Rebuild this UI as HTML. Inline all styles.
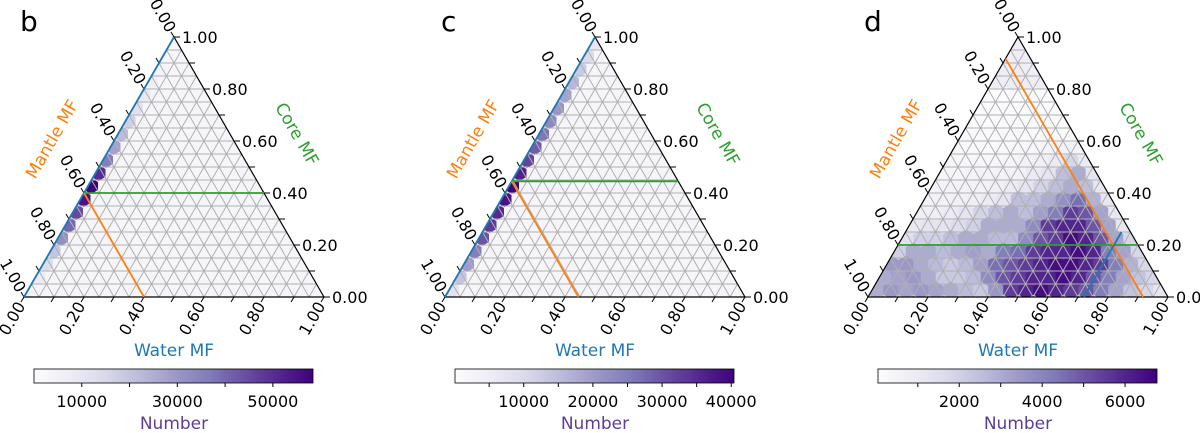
<!DOCTYPE html>
<html><head><meta charset="utf-8"><style>
html,body{margin:0;padding:0;background:#fff}
svg{display:block;font-family:"DejaVu Sans","Liberation Sans",sans-serif}
</style></head><body>
<svg id="fig" width="1200" height="433" viewBox="0 0 1200 433" xmlns="http://www.w3.org/2000/svg"></svg>
<script>
// ---- data ----
const panelLetters = ["b","c","d"];
const tickValues = [0, 0.2, 0.4, 0.6, 0.8, 1.0];
const tickLabels = ["0.00","0.20","0.40","0.60","0.80","1.00"];
const cbarMin = [0, 60, 40];
const cbarMax = [58400, 40400, 6770];
const cbarTicksB = [10000, 20000, 30000, 40000, 50000];
const cbarLabelsB = ["10000", "", "30000", "", "50000"];
const cbarTicksC = [5000, 10000, 15000, 20000, 25000, 30000, 35000, 40000];
const cbarLabelsC = ["", "10000", "", "20000", "", "30000", "", "40000"];
const cbarTicksD = [1000, 2000, 3000, 4000, 5000, 6000];
const cbarLabelsD = ["", "2000", "", "4000", "", "6000"];
const hexRowsB = [[4000],[8000],[14000],[20000],[32000],[40000],[45000],[55000],[58000],[50000],[36000],[28000],[22000],[17000],[12000],[9000],[6000],[4000],[2500],[1500]];
const hexRowsC = [[8000],[14000],[20000],[25000],[30000],[33000],[35000],[38000],[40000],[36000],[32000],[29000],[26000],[23000],[21000],[19000],[16000],[13000],[10000],[7000]];
const hexRowsD = [
 [3000,3500,3200,3500,3200,3000,2600,2200,3500,5500,6000,6500,6000,5500,5000,4200,3200,2400,1800,1200],
 [3000,3200,3500,3000,2200,2200,2600,3800,5000,5500,6000,6000,6500,6000,5000,4200,3200,2400,1800],
 [3400,3500,3000,2600,2200,2600,3300,4500,5000,5500,6000,6500,6500,6000,5500,4200,2800,1800],
 [2000,3000,3000,2600,3000,3300,3000,4200,4500,5500,6000,6000,6500,6000,4200,3200,1800],
 [1400,2000,2000,2500,3000,3000,2600,2600,3800,5000,5500,6500,6000,5000,3200,1800],
 [1100,1300,1300,1600,2000,3000,3000,3000,3800,5500,6000,6000,5000,3200,1200],
 [800,800,1000,1300,1900,2500,3000,2500,3300,4200,5500,5000,3200,1200],
 [600,600,700,800,1000,1300,2500,2500,3000,3700,4500,2800,1200],
 [500,500,600,600,700,1000,1300,1900,2500,3000,2500,1200],
 [400,400,500,500,600,600,1000,1300,2500,3000,1300],
 [300,350,350,350,450,600,700,1000,1800,1000],
 [250,250,250,300,300,350,450,600,500],
 [150,150,200,200,200,200,200,200],
 [100,100,100,150,150,150,100],
 [80,80,100,100,100,80],
 [60,60,80,80,60]
];
const linesB = [[0,0,0,1,"#1f77b4"],[0,0.4,0.6,0.4,"#2ca02c"],[0,0.4,0.4,0,"#ff7f0e"]];
const linesC = [[0,0,0,1,"#1f77b4"],[0,0.445,0.555,0.445,"#2ca02c"],[0,0.445,0.445,0,"#ff7f0e"]];
const linesD = [[0,0.2,0.8,0.2,"#2ca02c"],[0,0.917,0.917,0,"#ff7f0e"],[0.72,0,0.72,0.25,"#1f77b4"]];

const panelOffsets=[0,421,844];
const hexRowsAll=[hexRowsB,hexRowsC,hexRowsD];
const linesAll=[linesB,linesC,linesD];
const cbTicksAll=[cbarTicksB,cbarTicksC,cbarTicksD];
const cbLabelsAll=[cbarLabelsB,cbarLabelsC,cbarLabelsD];

const NS="http://www.w3.org/2000/svg";
const svg=document.getElementById('fig');
function mk(tag,attrs,parent){const e=document.createElementNS(NS,tag);for(const k in attrs)e.setAttribute(k,attrs[k]);(parent||svg).appendChild(e);return e;}
const stops=["#fcfbfd","#efedf5","#dadaeb","#bcbddc","#9e9ac8","#807dba","#6a51a3","#54278f","#3f007d"];
function hex2rgb(h){return [1,3,5].map(i=>parseInt(h.substr(i,2),16));}
function cmap(t){t=Math.max(0,Math.min(1,t));const f=t*8,i=Math.min(7,Math.floor(f)),u=f-i;const a=hex2rgb(stops[i]),b=hex2rgb(stops[i+1]);return "rgb("+a.map((v,k)=>Math.round(v+(b[k]-v)*u)).join(",")+")";}

const W=300,H=260,BOT=297,L0=24;
const defs=mk('defs',{});
const grad=mk('linearGradient',{id:'pg',x1:0,y1:0,x2:1,y2:0},defs);
stops.forEach((s,i)=>mk('stop',{offset:(i/8),'stop-color':s},grad));

for(let p=0;p<3;p++){
  const ox=L0+panelOffsets[p];
  const X=(w,c)=>ox+w*W+c*W/2, Y=c=>BOT-c*H;
  const g=mk('g',{});
  
  
  const tri=`${X(0,0)},${Y(0)} ${X(1,0)},${Y(0)} ${X(0,1)},${Y(1)}`;
  const cp=mk('clipPath',{id:'clip'+p},defs);
  mk('polygon',{points:tri},cp);
  const bg=mk('polygon',{points:tri,fill:p==2?'#efedf6':'#f6f5fa'},g);
  
  
  const hg=mk('g',{'clip-path':'url(#clip'+p+')'},g);
  
  
  const rows=hexRowsAll[p];
  const R=p==2?9:8;
  rows.forEach((row,r)=>{
    const cy=BOT-7-r*13; const c=(BOT-cy)/H;
    const xl=X(0,c);
    row.forEach((v,i)=>{
      const cx=p==2? xl+4+i*15 : xl+3;
      let pts=[];for(let k=0;k<6;k++){const a=Math.PI/180*(60*k-90);pts.push((cx+R*Math.cos(a)).toFixed(1)+","+(cy+R*Math.sin(a)).toFixed(1));}
      const t=(v-cbarMin[p])/(cbarMax[p]-cbarMin[p]);
      const h=mk('polygon',{points:pts.join(' '),fill:cmap(t)},hg);
      
      
    });
  });
  const gg=mk('g',{stroke:'#b0b0b0','stroke-width':1,fill:'none'},g);
  
  
  for(let k=1;k<20;k++){const v=k/20;
    mk('line',{x1:X(0,v),y1:Y(v),x2:X(1-v,v),y2:Y(v)},gg);
    mk('line',{x1:X(v,0),y1:Y(0),x2:X(v,1-v),y2:Y(1-v)},gg);
    mk('line',{x1:X(v,0),y1:Y(0),x2:X(0,v),y2:Y(v)},gg);
  }
  const edge=mk('polygon',{points:tri,fill:'none',stroke:'#000','stroke-width':1.2},g);
  
  
  for(let k=0;k<=10;k++){const v=k/10;
    mk('line',{x1:X(1-v,v),y1:Y(v),x2:X(1-v,v)+6,y2:Y(v),stroke:'#000'},g);
    mk('line',{x1:X(0,1-v),y1:Y(1-v),x2:X(0,1-v)-3,y2:Y(1-v)-5,stroke:'#000'},g);
    mk('line',{x1:X(v,0),y1:Y(0),x2:X(v,0)-3,y2:Y(0)+5,stroke:'#000'},g);
  }
  linesAll[p].forEach(l=>{const e=mk('line',{x1:X(l[0],l[1]),y1:Y(l[1]),x2:X(l[2],l[3]),y2:Y(l[3]),stroke:l[4],'stroke-width':1.8},g);
    
    });
  tickValues.forEach((v,i)=>{
    const t1=mk('text',{x:X(1-v,v)+8,y:Y(v)+6,'font-size':16,fill:'#000'},g);t1.textContent=tickLabels[i];
    
    
    const lx=X(0,1-v)-12, ly=Y(1-v)-21;
    const t2=mk('text',{x:lx,y:ly,'font-size':16,'text-anchor':'middle','dominant-baseline':'middle',transform:`rotate(60 ${lx} ${ly})`},g);t2.textContent=tickLabels[i];
    
    
    const bx=X(v,0)-11, by=BOT+22;
    const t3=mk('text',{x:bx,y:by,'font-size':16,'text-anchor':'middle','dominant-baseline':'middle',transform:`rotate(-60 ${bx} ${by})`},g);t3.textContent=tickLabels[i];
    
    
  });
  const mx=ox+33,my=142;
  const at1=mk('text',{x:mx,y:my,'font-size':17,fill:'#ff7f0e','text-anchor':'middle',transform:`rotate(-60 ${mx} ${my})`},g);at1.textContent="Mantle MF";
  
  
  const cx2=ox+268,cy2=137;
  const at2=mk('text',{x:cx2,y:cy2,'font-size':17,fill:'#2ca02c','text-anchor':'middle',transform:`rotate(60 ${cx2} ${cy2})`},g);at2.textContent="Core MF";
  
  
  const at3=mk('text',{x:ox+150,y:356,'font-size':17,fill:'#1f77b4','text-anchor':'middle'},g);at3.textContent="Water MF";
  
  
  const lt=mk('text',{x:ox-4,y:31,'font-size':28,fill:'#000'},g);lt.textContent=panelLetters[p];
  
  
  const cbx=ox+10,cbw=279,cby=369,cbh=14;
  const cb=mk('rect',{x:cbx,y:cby,width:cbw,height:cbh,fill:'url(#pg)',stroke:'#000','stroke-width':0.8},g);
  
  
  cbTicksAll[p].forEach((v,i)=>{
    const x=cbx+(v-cbarMin[p])/(cbarMax[p]-cbarMin[p])*cbw;
    mk('line',{x1:x,y1:cby+cbh,x2:x,y2:cby+cbh+4,stroke:'#000'},g);
    if(cbLabelsAll[p][i]){const t=mk('text',{x:x,y:cby+cbh+24,'font-size':16,'text-anchor':'middle'},g);t.textContent=cbLabelsAll[p][i];
      
      }
  });
  const nt=mk('text',{x:ox+150,y:429,'font-size':17,fill:'#5e3c99','text-anchor':'middle'},g);nt.textContent="Number";
  
  
}
</script>
</body></html>
